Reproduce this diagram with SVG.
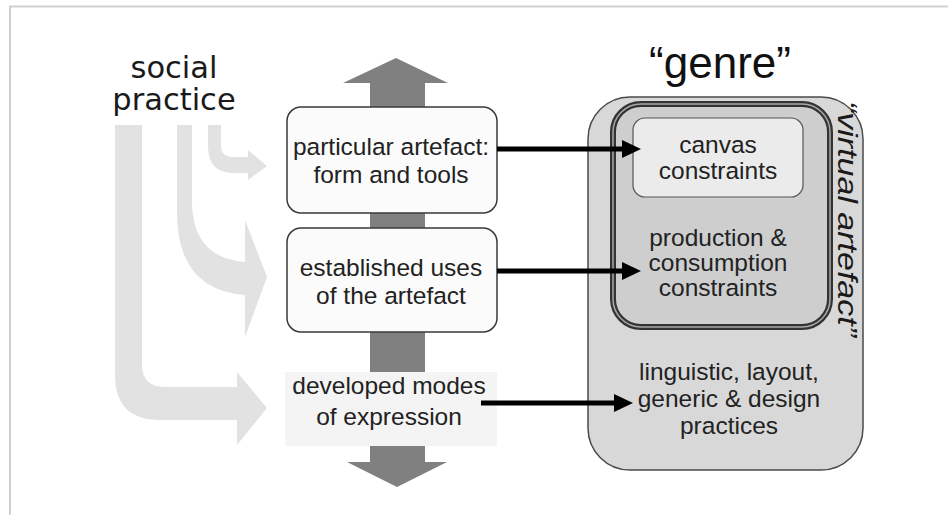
<svg xmlns="http://www.w3.org/2000/svg" width="948" height="515" viewBox="0 0 948 515">
<style>
.t{font-family:"Liberation Sans",Arial,sans-serif;font-size:24.5px;fill:#222;text-anchor:middle}
.sp{font-family:"DejaVu Sans",Verdana,sans-serif;font-size:30.5px;fill:#1a1a1a;text-anchor:middle}
.box{fill:#fbfbfb;stroke:#3a3a3a;stroke-width:1.5}
.soc{fill:#e2e2e2}
.blk{stroke:#000;stroke-width:5;fill:none}
</style>
<rect width="948" height="515" fill="#fff"/>
<path d="M9,6.5 H948 M10,6 V515" stroke="#cfcfcf" stroke-width="2" fill="none"/>

<g id="social-practice">
<text class="sp" x="174" y="78">social</text>
<text class="sp" x="174" y="110">practice</text>
<path class="soc" d="M208,125 L221,125 L221,146 Q221,157 234,157 L248,157 L248,150 L267,166 L248,180 L248,173 L232,173 Q208,172 208,146 Z"/>
<path class="soc" d="M177,125 L192,125 L192,205 Q194,258 245,262 L245,220 L267,277 L245,337 L245,295 Q177,290 177,212 Z"/>
<path class="soc" d="M115,125 L142,125 L142,365 Q142,387 166,387 L237,387 L237,372 L267,408 L237,445 L237,420 L160,420 Q115,420 115,375 Z"/>
</g>

<g id="axis-arrow">
<path d="M370,83 L343,83 L396,58 L448,83 L425,83 L425,462 L447,462 L397,487 L347,462 L370,462 Z" fill="#808080"/>
</g>

<g id="artefact">
<rect class="box" x="287" y="107" width="210" height="106" rx="14"/>
<text class="t" x="391" y="155">particular artefact:</text>
<text class="t" x="391" y="183">form and tools</text>
</g>
<g id="uses">
<rect class="box" x="287" y="228" width="210" height="104" rx="14"/>
<text class="t" x="391" y="276">established uses</text>
<text class="t" x="391" y="304">of the artefact</text>
</g>
<g id="modes">
<rect x="285" y="372" width="212" height="74" fill="#f4f4f4"/>
<text class="t" x="389" y="394">developed modes</text>
<text class="t" x="389" y="425">of expression</text>
</g>

<g id="genre">
<text x="720" y="78" font-family="Liberation Sans,Arial,sans-serif" font-size="44" fill="#111" text-anchor="middle">“genre”</text>
<rect x="588" y="97" width="275" height="373" rx="42" fill="#d8d8d8" stroke="#4a4a4a" stroke-width="1.5"/>
<text class="t" x="729" y="380">linguistic, layout,</text>
<text class="t" x="729" y="407">generic &amp; design</text>
<text class="t" x="729" y="434">practices</text>
</g>
<g id="virtual-artefact">
<rect x="613" y="104" width="217" height="223" rx="28" fill="#cecece" stroke="#333" stroke-width="6"/>
<rect x="613" y="104" width="217" height="223" rx="28" fill="none" stroke="#a8a8a8" stroke-width="1.5"/>
<text x="847" y="219" transform="rotate(90 847 219)" font-family="Liberation Sans,Arial,sans-serif" font-size="27" font-style="italic" fill="#1a1a1a" text-anchor="middle" textLength="236" lengthAdjust="spacingAndGlyphs" dy="9">“virtual artefact”</text>
<text class="t" x="718" y="246">production &amp;</text>
<text class="t" x="718" y="271">consumption</text>
<text class="t" x="718" y="296">constraints</text>
</g>
<g id="canvas">
<rect x="633" y="118" width="170" height="79" rx="12" fill="#ebebeb" stroke="#555" stroke-width="1.2"/>
<text class="t" x="718" y="153">canvas</text>
<text class="t" x="718" y="179">constraints</text>
</g>

<g id="connectors">
<path class="blk" d="M481,403 H616"/>
<polygon points="614,394 633,403 614,412"/>
<path class="blk" d="M497,149 H624"/>
<polygon points="622,140 641,149 622,158"/>
<path class="blk" d="M497,271 H624"/>
<polygon points="622,262 641,271 622,280"/>
</g>
</svg>
